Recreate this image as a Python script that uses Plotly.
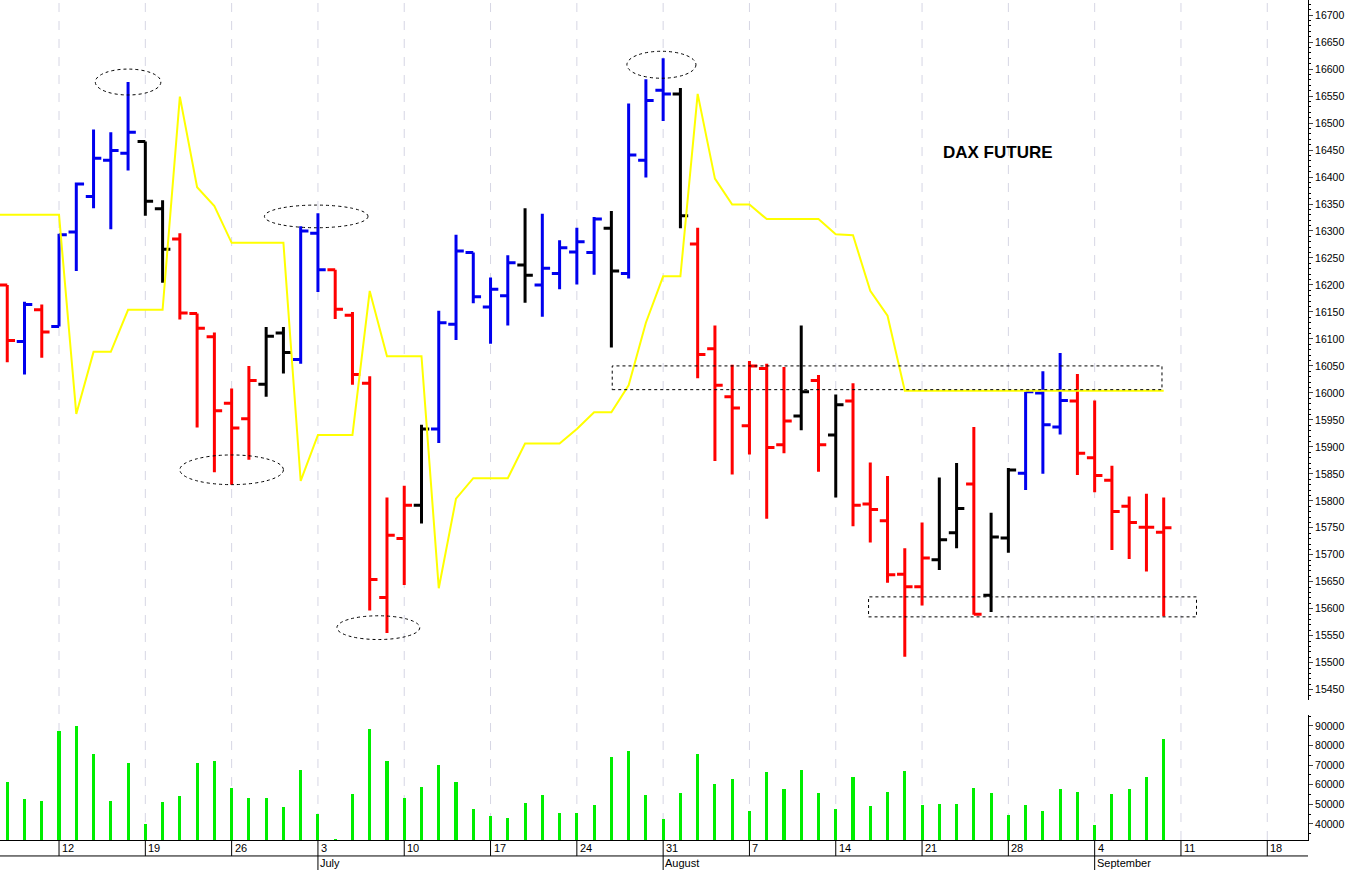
import plotly.graph_objects as go

# trading days 7 Jun .. 8 Sep 2023, index 0 = Wed 7 Jun
opens = [16200, 16095, 16154, 16123, 16298, 16364, 16431, 16444, 16466, 16341,
         16285, 16147, 16104, 15981, 15952, 16016, 16111, 16062, 16296, 16228,
         16144, 16018, 15621, 15730, 15792, 15933, 16127, 16260, 16159, 16180,
         16237, 16200, 16221, 16261, 16260, 16305, 16221, 16431, 16561, 16554,
         16276, 16082, 15993, 15939, 16045, 15904, 15957, 16023, 15922, 15985,
         15794, 15763, 15664, 15641, 15691, 15741, 15831, 15625, 15731, 15851,
         16000, 15937, 15985, 15880, 15838, 15790, 15751, 15742]
highs = [16200, 16169, 16164, 16295, 16390, 16488, 16483, 16576, 16466, 16357,
         16296, 16147, 16112, 16008, 16050, 16122, 16122, 16309, 16333, 16228,
         16150, 16031, 15806, 15828, 15941, 16152, 16293, 16260, 16214, 16255,
         16342, 16332, 16283, 16306, 16326, 16337, 16536, 16581, 16620, 16565,
         16306, 16125, 16052, 16059, 16054, 16048, 16125, 16033, 15997, 16018,
         15871, 15846, 15712, 15760, 15843, 15870, 15937, 15778, 15861, 16002,
         16040, 16074, 16035, 15986, 15865, 15808, 15813, 15806]
lows = [16057, 16034, 16065, 16123, 16226, 16342, 16303, 16412, 16328, 16204,
        16136, 15936, 15853, 15830, 15876, 15993, 16036, 16054, 16187, 16137,
        16015, 15597, 15555, 15644, 15758, 15907, 16098, 16166, 16091, 16125,
        16167, 16141, 16192, 16201, 16219, 16084, 16212, 16399, 16504, 16305,
        16027, 15874, 15849, 15886, 15767, 15888, 15931, 15854, 15806, 15753,
        15723, 15648, 15511, 15606, 15672, 15712, 15589, 15594, 15704, 15820,
        15850, 15923, 15848, 15816, 15709, 15692, 15669, 15586]
closes = [16097, 16164, 16113, 16293, 16387, 16435, 16449, 16483, 16355, 16266,
          16148, 16120, 15967, 15935, 16023, 16105, 16075, 16300, 16228, 16155,
          16034, 15654, 15736, 15792, 15933, 16130, 16263, 16178, 16192, 16241,
          16218, 16231, 16269, 16280, 16322, 16226, 16441, 16542, 16554, 16328,
          16071, 16014, 15972, 16050, 15899, 15948, 16002, 15904, 15978, 15792,
          15784, 15663, 15641, 15694, 15728, 15786, 15590, 15733, 15857, 16002,
          15941, 15986, 15888, 15847, 15780, 15760, 15751, 15750]
bar_colors = (["red", "blue", "red"] + ["blue"] * 5 + ["black"] * 2 + ["red"] * 5
              + ["black"] * 2 + ["blue"] * 2 + ["red"] * 5 + ["black"] + ["blue"] * 5
              + ["black"] + ["blue"] * 4 + ["black"] + ["blue"] * 3 + ["black"]
              + ["red"] * 6 + ["black", "red", "black"] + ["red"] * 5 + ["black"] * 2
              + ["red"] + ["black"] * 2 + ["blue"] * 3 + ["red"] * 6)
signal = ([16330] * 4 + [15961, 16076, 16076, 16154, 16154, 16154, 16549, 16381, 16346]
          + [16278] * 4 + [15837, 15922, 15922, 15922, 16189, 16068, 16068, 16068, 15638,
          15804, 15842, 15842, 15842, 15906, 15906, 15906, 15933, 15964, 15964, 16014,
          16130, 16216, 16216, 16554, 16397, 16349, 16349] + [16322] * 4
          + [16294, 16292, 16189, 16143] + [16004] * 16)
volume = [61300, 52700, 51900, 87400, 90200, 75500, 51900, 70900, 39800, 51400,
          54300, 70900, 72100, 58200, 53100, 53100, 48900, 67500, 44900, 32300,
          55100, 88500, 72100, 53100, 58900, 70100, 61600, 47500, 43900, 42900,
          50900, 54800, 45900, 45400, 49800, 74100, 77100, 54700, 42400, 56000,
          75700, 60200, 63100, 46600, 66700, 57800, 67400, 55900, 47600, 63800,
          49300, 56600, 67000, 49800, 50300, 50000, 58500, 55700, 44800, 49800,
          46600, 57800, 56200, 39700, 55200, 58100, 64100, 83600]
week_ticks = [3, 8, 13, 18, 23, 28, 33, 38, 43, 48, 53, 58, 63, 68, 73]
week_labels = ["12", "19", "26", "3", "10", "17", "24", "31", "7", "14", "21", "28", "4", "11", "18"]
month_ticks = [18, 38, 63]
month_labels = ["July", "August", "September"]

# marked extremes (ellipses) and zones (dashed boxes)
ellipses = [(5.1, 8.9, 16552, 16600), (10.0, 16.0, 15830, 15885), (14.9, 20.9, 16306, 16348),
            (19.1, 23.9, 15543, 15587), (35.9, 39.9, 16583, 16633)]
zones = [(35.05, 66.9, 16006, 16050), (49.9, 68.9, 15585, 15622)]

x = list(range(len(opens)))
fig = go.Figure()

for c in ["red", "blue", "black"]:
    idx = [i for i in x if bar_colors[i] == c]
    col = {"red": "#ff0000", "blue": "#0000ee", "black": "#000000"}[c]
    fig.add_trace(go.Ohlc(
        x=idx, open=[opens[i] for i in idx], high=[highs[i] for i in idx],
        low=[lows[i] for i in idx], close=[closes[i] for i in idx],
        increasing=dict(line=dict(color=col, width=3)),
        decreasing=dict(line=dict(color=col, width=3)),
        tickwidth=0.45, hoverinfo="skip", showlegend=False, yaxis="y"))

# signal line runs in from the left edge
fig.add_trace(go.Scatter(x=[-0.42] + x, y=[signal[0]] + signal, mode="lines",
                         line=dict(color="#ffff00", width=2),
                         hoverinfo="skip", showlegend=False, yaxis="y"))
fig.add_trace(go.Bar(x=x, y=volume, width=0.18, marker=dict(color="#00ee00", line=dict(width=0)),
                     hoverinfo="skip", showlegend=False, yaxis="y2"))

shapes = []
for t in week_ticks:
    shapes.append(dict(type="line", xref="x", yref="paper", x0=t, x1=t, y0=0, y1=1,
                       line=dict(color="#d6d6e4", width=1, dash="dash"), layer="below"))
    shapes.append(dict(type="line", xref="x", yref="paper", x0=t, x1=t, y0=0, y1=-0.019,
                       line=dict(color="black", width=1)))
for t in month_ticks:
    shapes.append(dict(type="line", xref="x", yref="paper", x0=t, x1=t, y0=-0.019, y1=-0.04,
                       line=dict(color="black", width=1)))
shapes.append(dict(type="line", xref="paper", yref="paper", x0=0, x1=1, y0=-0.019, y1=-0.019,
                   line=dict(color="black", width=1)))
for x0, x1, y0, y1 in ellipses:
    shapes.append(dict(type="circle", xref="x", yref="y", x0=x0, x1=x1, y0=y0, y1=y1,
                       line=dict(color="black", width=1, dash="dot")))
for x0, x1, y0, y1 in zones:
    shapes.append(dict(type="rect", xref="x", yref="y", x0=x0, x1=x1, y0=y0, y1=y1,
                       line=dict(color="black", width=1, dash="dot")))

annotations = [dict(x=57.4, y=16446, xref="x", yref="y", text="<b>DAX FUTURE</b>", showarrow=False,
                    font=dict(size=17, color="black", family="Liberation Sans"))]
for t, lab in zip(week_ticks, week_labels):
    annotations.append(dict(x=t, y=-0.0095, xref="x", yref="paper", text=lab, showarrow=False,
                            xanchor="left", yanchor="middle", xshift=1,
                            font=dict(size=11, color="black")))
for t, lab in zip(month_ticks, month_labels):
    annotations.append(dict(x=t, y=-0.0275, xref="x", yref="paper", text=lab, showarrow=False,
                            xanchor="left", yanchor="middle", xshift=0,
                            font=dict(size=11, color="black")))

fig.update_layout(
    width=1357, height=870,
    margin=dict(l=0, r=49, t=0, b=30, autoexpand=False),
    paper_bgcolor="white", plot_bgcolor="white",
    font=dict(family="Liberation Sans", size=11, color="black"),
    shapes=shapes, annotations=annotations,
    xaxis=dict(range=[-0.42, 75.36], showgrid=False, showticklabels=False, ticks="",
               showline=True, linecolor="black", zeroline=False, anchor="y2",
               rangeslider=dict(visible=False), automargin=False),
    yaxis=dict(domain=[0.1667, 1], range=[15431, 16728], side="right", anchor="x",
               dtick=50, tick0=0, tickformat="d", ticks="outside", ticklen=4, showgrid=False,
               zeroline=False, showline=True, linecolor="black", automargin=False,
               tickfont=dict(size=10.5),
               minor=dict(dtick=10, ticks="outside", ticklen=2, tickcolor="black")),
    yaxis2=dict(domain=[0, 0.149], range=[31800, 95600], side="right", anchor="x",
                tickvals=[40000, 50000, 60000, 70000, 80000, 90000], tickformat="d",
                ticks="outside", ticklen=4, automargin=False, tickfont=dict(size=10.5),
                showgrid=False, zeroline=False, showline=True, linecolor="black",
                minor=dict(dtick=5000, ticks="outside", ticklen=2, tickcolor="black")),
    bargap=0,
)

fig.write_html("out.html", config={"displayModeBar": False},
               post_script="document.body.style.margin='0';document.body.style.overflow='hidden';")
